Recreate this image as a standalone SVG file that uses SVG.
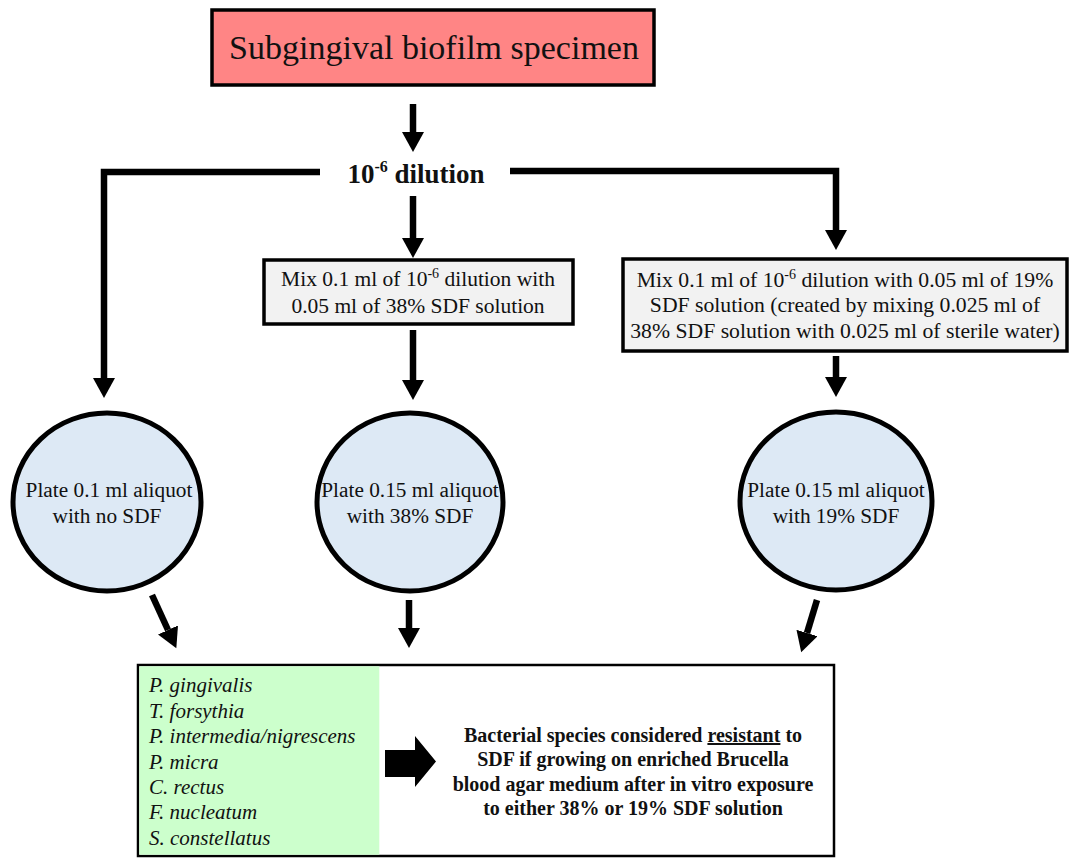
<svg xmlns="http://www.w3.org/2000/svg" width="1070" height="859" viewBox="0 0 1070 859">
<style>
.t{font-family:"Times New Roman","Liberation Serif",serif;fill:#111;}
.box{stroke:#000;stroke-width:3.5;}
.circ{fill:#dde9f5;stroke:#000;stroke-width:5;}
.ln{fill:none;stroke:#000;stroke-width:6.5;}
.sp{font-style:italic;font-size:21px;}
.bt{font-weight:bold;font-size:20px;}
</style>
<defs>
<marker id="ah" markerUnits="userSpaceOnUse" markerWidth="24" markerHeight="22" refX="0" refY="11" orient="auto">
<path d="M0,0 L20,11 L0,22 Z" fill="#000"/>
</marker>
</defs>
<rect width="1070" height="859" fill="#fff"/>

<g id="connectors">
<line class="ln" x1="413" y1="104" x2="413" y2="132" marker-end="url(#ah)"/>
<polyline class="ln" points="320,172 104,172 104,378" marker-end="url(#ah)"/>
<polyline class="ln" points="510,171 836,171 836,230" marker-end="url(#ah)"/>
<line class="ln" x1="413" y1="196" x2="413" y2="238" marker-end="url(#ah)"/>
<line class="ln" x1="413" y1="330" x2="413" y2="380" marker-end="url(#ah)"/>
<line class="ln" x1="836" y1="356" x2="836" y2="377" marker-end="url(#ah)"/>
<line class="ln" x1="152" y1="595" x2="168" y2="630" marker-end="url(#ah)"/>
<line class="ln" x1="409" y1="600" x2="409" y2="628" marker-end="url(#ah)"/>
<line class="ln" x1="817" y1="600" x2="807" y2="633" marker-end="url(#ah)"/>
</g>

<g id="n-specimen">
<rect class="box" x="212" y="10" width="442" height="75" fill="#ff8585"/>
<text class="t" x="434" y="59" font-size="34" text-anchor="middle">Subgingival biofilm specimen</text>
</g>

<g id="n-dilution">
<text class="t" x="416" y="183" font-size="27" text-anchor="middle" font-weight="bold">10<tspan font-size="16" dy="-11">-6</tspan><tspan dy="11"> dilution</tspan></text>
</g>

<g id="n-mix38">
<rect class="box" x="264" y="260" width="309" height="64" fill="#f2f2f2"/>
<text class="t" x="418" y="286" font-size="21.5" text-anchor="middle">Mix 0.1 ml of 10<tspan font-size="14" dy="-8">-6</tspan><tspan dy="8"> dilution with</tspan></text>
<text class="t" x="418" y="313" font-size="21.5" text-anchor="middle">0.05 ml of 38% SDF solution</text>
</g>

<g id="n-mix19">
<rect class="box" x="623" y="259" width="444" height="92" fill="#f2f2f2"/>
<text class="t" x="845" y="287" font-size="21.7" text-anchor="middle">Mix 0.1 ml of 10<tspan font-size="14" dy="-8">-6</tspan><tspan dy="8"> dilution with 0.05 ml of 19%</tspan></text>
<text class="t" x="845" y="312" font-size="21.7" text-anchor="middle">SDF solution (created by mixing 0.025 ml of</text>
<text class="t" x="845" y="338" font-size="21.7" text-anchor="middle">38% SDF solution with 0.025 ml of sterile water)</text>
</g>

<g id="n-plate0">
<ellipse class="circ" cx="107" cy="502" rx="94" ry="89"/>
<text class="t" x="109" y="497" font-size="21.3" text-anchor="middle">Plate 0.1 ml aliquot</text>
<text class="t" x="107" y="523" font-size="21.3" text-anchor="middle">with no SDF</text>
</g>

<g id="n-plate38">
<ellipse class="circ" cx="410" cy="502" rx="93" ry="89"/>
<text class="t" x="410" y="497" font-size="21.3" text-anchor="middle">Plate 0.15 ml aliquot</text>
<text class="t" x="410" y="523" font-size="21.3" text-anchor="middle">with 38% SDF</text>
</g>

<g id="n-plate19">
<ellipse class="circ" cx="836" cy="501" rx="96" ry="89"/>
<text class="t" x="836" y="497" font-size="21.3" text-anchor="middle">Plate 0.15 ml aliquot</text>
<text class="t" x="836" y="523" font-size="21.3" text-anchor="middle">with 19% SDF</text>
</g>

<g id="n-result">
<rect x="138" y="665" width="696" height="191" fill="#fff" stroke="#000" stroke-width="2.5"/>
<rect x="139.3" y="666.3" width="240" height="188.4" fill="#ccffcc"/>
<text class="t sp" x="149" y="692">P. gingivalis</text>
<text class="t sp" x="149" y="718">T. forsythia</text>
<text class="t sp" x="149" y="743">P. intermedia/nigrescens</text>
<text class="t sp" x="149" y="769">P. micra</text>
<text class="t sp" x="149" y="794">C. rectus</text>
<text class="t sp" x="149" y="819">F. nucleatum</text>
<text class="t sp" x="149" y="845">S. constellatus</text>
<path d="M385,750 L415,750 L415,736 L436,761.5 L415,787 L415,777 L385,777 Z" fill="#000"/>
<text class="t bt" x="633" y="742" text-anchor="middle">Bacterial species considered <tspan text-decoration="underline">resistant</tspan> to</text>
<text class="t bt" x="633" y="766" text-anchor="middle">SDF if growing on enriched Brucella</text>
<text class="t bt" x="633" y="791" text-anchor="middle">blood agar medium after in vitro exposure</text>
<text class="t bt" x="633" y="815" text-anchor="middle">to either 38% or 19% SDF solution</text>
</g>
</svg>
